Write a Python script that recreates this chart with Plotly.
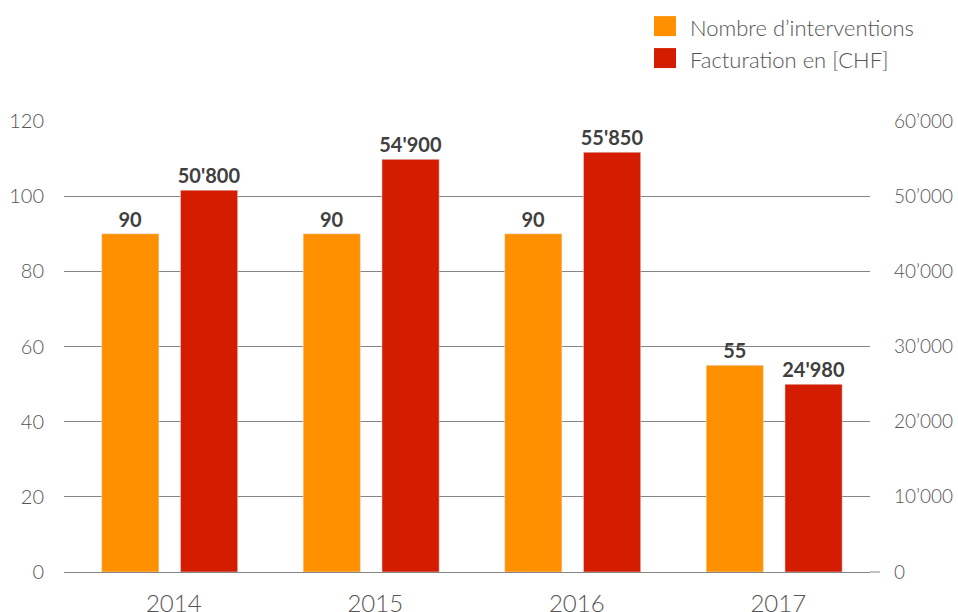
import plotly.graph_objects as go

years = ["2014", "2015", "2016", "2017"]
interventions = [90, 90, 90, 55]
facturation = [50800, 54900, 55850, 24980]
interv_labels = ["90", "90", "90", "55"]
fact_labels = ["50'800", "54'900", "55'850", "24'980"]
series_names = ["Nombre d\u2019interventions", "Facturation en [CHF]"]
left_ticks = [0, 20, 40, 60, 80, 100, 120]
right_ticks = [0, 10000, 20000, 30000, 40000, 50000, 60000]
right_ticktext = ["0", "10\u2019000", "20\u2019000", "30\u2019000", "40\u2019000", "50\u2019000", "60\u2019000"]

ORANGE = "#FF9100"
RED = "#D41C00"
TXT = "#555555"
LBL = "#404040"
GRID = "#858585"
FONT = "Lato"

W, H = 958, 612
ml, mr, mt, mb = 64, 88, 121, 39.5
pw = W - ml - mr
ph = H - mt - mb

fig = go.Figure()
fig.add_trace(go.Bar(
    x=years, y=interventions, name=series_names[0], marker_color=ORANGE,
    width=0.284, offset=-0.313, text=interv_labels, textposition="outside",
    constraintext="none",
    textfont=dict(family=FONT, size=20, color=LBL, weight="bold"),
    cliponaxis=False, xaxis="x", yaxis="y", showlegend=False,
))
fig.add_trace(go.Bar(
    x=years, y=facturation, name=series_names[1], marker_color=RED,
    width=0.284, offset=0.078, text=fact_labels, textposition="outside",
    constraintext="none",
    textfont=dict(family=FONT, size=20, color=LBL, weight="bold"),
    cliponaxis=False, xaxis="x", yaxis="y2", showlegend=False,
))

def px_x(x):
    return (x - ml) / pw
def px_y(y):
    return (H - mb - y) / ph

shapes = [dict(type="line", xref="paper", yref="paper", x0=1, x1=px_x(880), y0=0, y1=0,
               line=dict(color=GRID, width=1))]
annotations = []
sq_tops = [16, 48]
txt_mid = [27.5, 59]
for name, col, t, m in zip(series_names, [ORANGE, RED], sq_tops, txt_mid):
    shapes.append(dict(type="rect", xref="paper", yref="paper",
                       x0=px_x(654), x1=px_x(676), y0=px_y(t + 20), y1=px_y(t),
                       fillcolor=col, line=dict(width=0)))
    annotations.append(dict(xref="paper", yref="paper", x=px_x(688), y=px_y(m),
                            text=name, showarrow=False, xanchor="left", yanchor="middle",
                            font=dict(family=FONT, size=22, color=TXT, weight=300)))

fig.update_layout(
    width=W, height=H,
    margin=dict(l=ml, r=mr, t=mt, b=mb, autoexpand=False),
    plot_bgcolor="white", paper_bgcolor="white",
    barmode="overlay",
    shapes=shapes, annotations=annotations,
    xaxis=dict(type="category", showgrid=False, showline=True,
               linecolor=GRID, linewidth=1, automargin=False,
               ticks="", ticklabelshift=9, ticklabelstandoff=10,
               tickfont=dict(family=FONT, size=24, color=TXT, weight=300)),
    yaxis=dict(range=[0, 120], tickvals=left_ticks, showgrid=True, gridcolor=GRID, gridwidth=1,
               automargin=False, zeroline=False, ticks="", ticklabelstandoff=19,
               tickfont=dict(family=FONT, size=20, color=TXT, weight=300)),
    yaxis2=dict(range=[0, 60000], tickvals=right_ticks, ticktext=right_ticktext, overlaying="y",
                side="right", showgrid=False, zeroline=False, ticks="",
                ticklabelstandoff=23, automargin=False,
                tickfont=dict(family=FONT, size=19, color=TXT, weight=300)),
    font=dict(family=FONT),
)

fig.write_html(
    "out.html",
    config={"displayModeBar": False},
    post_script="document.body.style.margin='0';document.body.style.overflow='hidden';",
)
